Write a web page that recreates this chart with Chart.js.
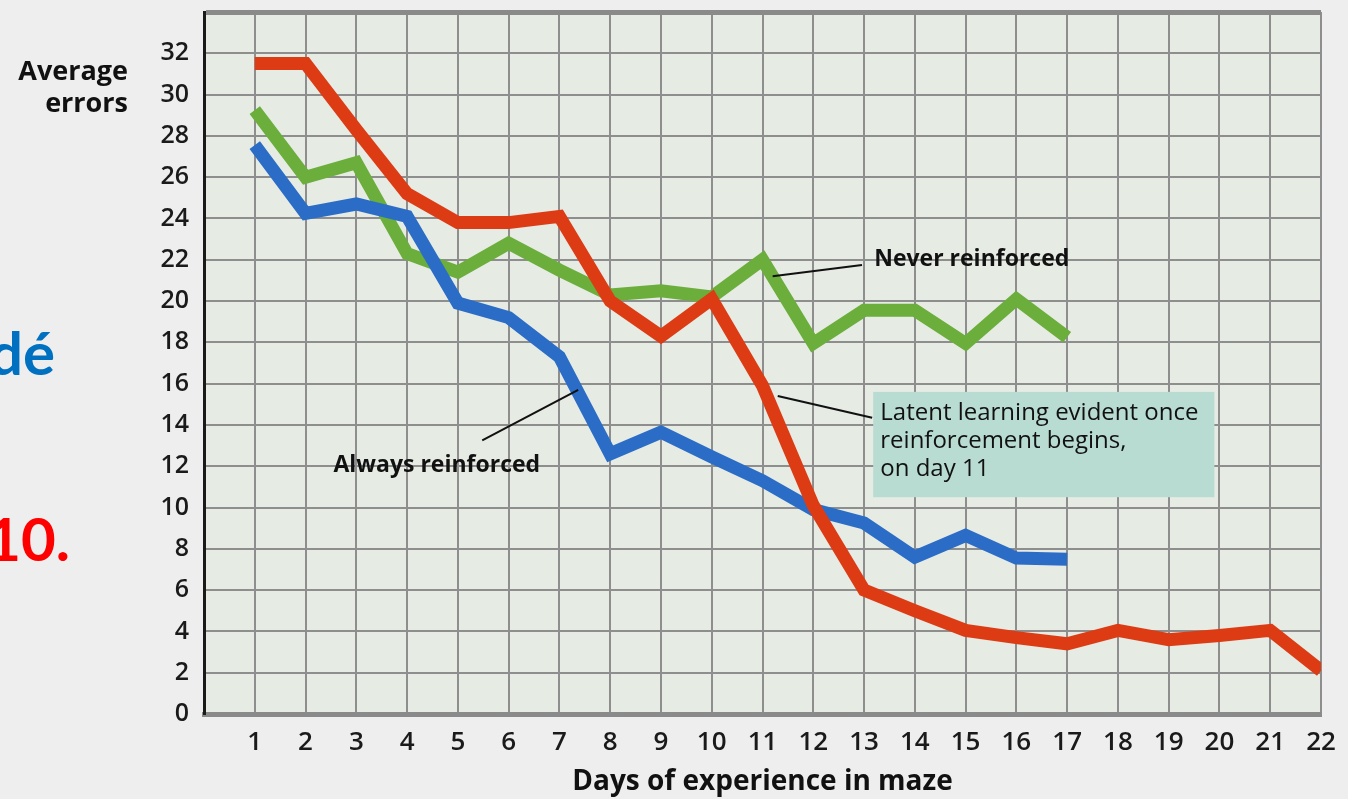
<!DOCTYPE html>
<html>
<head>
<meta charset="utf-8">
<script src="https://cdn.jsdelivr.net/npm/chart.js@4/dist/chart.umd.min.js"></script>
<style>
  html, body { margin: 0; padding: 0; background: #eeeeee; overflow: hidden; }
  #wrap { position: relative; width: 1348px; height: 799px; }
  #chart { position: absolute; left: 0; top: 0; }
  .cut { position: absolute; font-family: Lato, "Open Sans", sans-serif; font-weight: bold; font-size: 60px; line-height: 1; white-space: nowrap; }
</style>
</head>
<body>
<div id="wrap">
  <canvas id="chart" width="1348" height="799"></canvas>
  <div class="cut" style="right:1293px; top:322px; color:#0070c0;">dé</div>
  <div class="cut" style="right:1278px; top:508px; color:#ff0000;">10.</div>
</div>
<script>
// days of experience in maze
var days = [1, 2, 3, 4, 5, 6, 7, 8, 9, 10, 11, 12, 13, 14, 15, 16, 17, 18, 19, 20, 21, 22];

// average errors
var reinforcedFromDay11 = [31.5, 31.5, 28.3, 25.2, 23.8, 23.8, 24.1, 20.0, 18.3, 20.1, 15.9, 10.1, 6.0, 5.0, 4.05, 3.7, 3.4, 4.05, 3.6, 3.8, 4.05, 2.1];
var neverReinforced = [29.25, 26.0, 26.7, 22.3, 21.4, 22.8, 21.5, 20.3, 20.5, 20.2, 22.0, 17.95, 19.55, 19.55, 17.95, 20.1, 18.25];
var alwaysReinforced = [27.55, 24.25, 24.7, 24.1, 19.9, 19.2, 17.3, 12.6, 13.65, 12.45, 11.3, 9.9, 9.25, 7.6, 8.65, 7.55, 7.5];

var yTitle = ['Average', 'errors'];
var xTitle = 'Days of experience in maze';
var boxLines = ['Latent learning evident once', 'reinforcement begins,', 'on day 11'];

function toPoints(vals) {
    return vals.map(function (v, i) { return { x: days[i], y: v }; });
}

var bgPlugin = {
    id: 'bg',
    beforeDraw: function (chart) {
        var c = chart.ctx, a = chart.chartArea;
        c.save();
        c.fillStyle = '#e6ebe4';
        c.fillRect(a.left, a.top, a.right - a.left, a.bottom - a.top);
        c.restore();
    }
};

var notesPlugin = {
    id: 'notes',
    afterDatasetsDraw: function (chart) {
        var c = chart.ctx, a = chart.chartArea;
        var xs = chart.scales.x, ys = chart.scales.y;
        function px(v) { return xs.getPixelForValue(v); }
        function py(v) { return ys.getPixelForValue(v); }
        c.save();

        // text box
        c.fillStyle = '#b9dcd2';
        c.fillRect(px(13.18), py(15.6), px(19.9) - px(13.18), py(10.5) - py(15.6));

        // leader lines
        c.strokeStyle = '#111';
        c.lineWidth = 2;
        c.beginPath();
        c.moveTo(px(11.2), py(21.2)); c.lineTo(px(12.96), py(21.75));
        c.moveTo(px(5.48), py(13.25)); c.lineTo(px(7.37), py(15.7));
        c.moveTo(px(11.3), py(15.4)); c.lineTo(px(13.16), py(14.35));
        c.stroke();

        c.fillStyle = '#111';
        c.textBaseline = 'middle';
        c.textAlign = 'left';
        c.font = 'bold 23px "Open Sans"';
        c.fillText('Never reinforced', px(13.2), py(22.0));
        c.fillText('Always reinforced', px(2.55), py(12.05));

        c.font = '24px "Open Sans"';
        c.fillText(boxLines[0], px(13.32), py(14.55));
        c.fillText(boxLines[1], px(13.32), py(13.2));
        c.fillText(boxLines[2], px(13.32), py(11.85));

        // axis titles
        c.font = 'bold 27px "Open Sans"';
        c.textAlign = 'right';
        c.fillText(yTitle[0], 128, 72);
        c.fillText(yTitle[1], 128, 104);
        c.font = 'bold 28px "Open Sans"';
        c.textAlign = 'center';
        c.fillText(xTitle, (a.left + a.right) / 2, 782);
        c.restore();
    }
};

// first dataset is drawn on top: red, then blue, then green
new Chart(document.getElementById('chart'), {
    type: 'line',
    data: {
        datasets: [
            {
                label: 'Reinforced from day 11',
                data: toPoints(reinforcedFromDay11),
                borderColor: '#dd3b14',
                borderWidth: 13,
                pointRadius: 0,
                tension: 0,
                borderJoinStyle: 'miter'
            },
            {
                label: 'Always reinforced',
                data: toPoints(alwaysReinforced),
                borderColor: '#2b6dc6',
                borderWidth: 13,
                pointRadius: 0,
                tension: 0,
                borderJoinStyle: 'miter'
            },
            {
                label: 'Never reinforced',
                data: toPoints(neverReinforced),
                borderColor: '#6bae3b',
                borderWidth: 13,
                pointRadius: 0,
                tension: 0,
                borderJoinStyle: 'miter'
            }
        ]
    },
    options: {
        responsive: false,
        animation: false,
        devicePixelRatio: 1,
        layout: { padding: { left: 0, top: 12, right: 27, bottom: 0 } },
        plugins: {
            legend: { display: false },
            tooltip: { enabled: false }
        },
        scales: {
            x: {
                type: 'linear',
                min: 0,
                max: 22,
                afterFit: function (s) { s.height = 85; s.paddingLeft = 0; s.paddingRight = 0; },
                ticks: {
                    stepSize: 1,
                    padding: 13,
                    color: '#1a1a1a',
                    font: { family: 'Open Sans', size: 26, weight: '600' },
                    callback: function (v) { return v === 0 ? '' : v; }
                },
                grid: { color: '#8e8e8e', lineWidth: 2, drawTicks: false },
                border: { color: '#8a8a8a', width: 5 }
            },
            y: {
                min: 0,
                max: 34,
                afterFit: function (s) { s.width = 204; s.paddingTop = 0; s.paddingBottom = 0; },
                ticks: {
                    stepSize: 2,
                    padding: 15,
                    color: '#1a1a1a',
                    font: { family: 'Open Sans', size: 25, weight: '600' },
                    callback: function (v) { return v === 34 ? '' : v; }
                },
                grid: {
                    drawTicks: false,
                    color: function (ctx) { return ctx.tick && ctx.tick.value === 34 ? '#8a8a8a' : '#8e8e8e'; },
                    lineWidth: function (ctx) { return ctx.tick && ctx.tick.value === 34 ? 5 : 2; }
                },
                border: { color: '#1a1a1a', width: 3 }
            }
        }
    },
    plugins: [bgPlugin, notesPlugin]
});
</script>
</body>
</html>
